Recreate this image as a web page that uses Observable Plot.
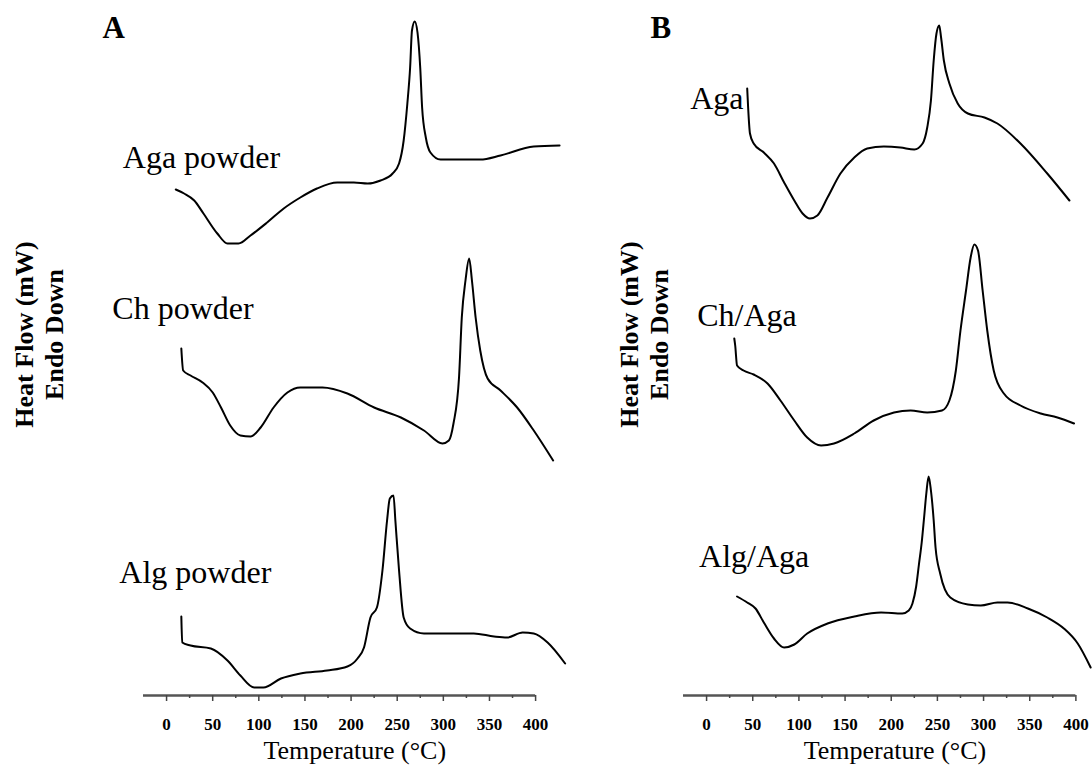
<!DOCTYPE html>
<html>
<head>
<meta charset="utf-8">
<script src="https://cdn.jsdelivr.net/npm/d3@7"></script>
<script src="https://cdn.jsdelivr.net/npm/@observablehq/plot@0.6"></script>
<style>
  body { margin: 0; background: #fff; }
  #fig { position: relative; width: 1092px; height: 765px; overflow: hidden; background: #fff; }
</style>
</head>
<body>
<div id="fig"></div>
<script>
// DSC thermograms: [temperature °C, heat flow (a.u., curves offset vertically)]
const tempTicks = [0, 50, 100, 150, 200, 250, 300, 350, 400];
const minorTicks = [25, 75, 125, 175, 225, 275, 325, 375];

// Panel A — raw powders
const agaPowder = [[10,511],[19,507],[30,500],[40,487],[55,467],[66,457],[78,457],[91,465],[109,478],[127,492],[145,503],[163,512],[185,518],[203,518],[218,517],[232,520],[245,527],[252,537],[257,560],[261,597],[264,633],[266,670],[269,679],[272,668],[275,632],[277,593],[281,563],[286,548],[297,541],[340,541],[362,545],[398,554],[426,555]];
const chPowder = [[16,352],[18,330],[26,325],[39,318],[50,308],[59,293],[69,275],[80,265],[91,264],[102,273],[116,293],[131,308],[145,313],[169,313],[196,307],[225,293],[254,283],[279,270],[299,257],[306,260],[311,277],[317,323],[320,383],[324,420],[328,442],[331,420],[335,383],[340,350],[348,322],[362,310],[380,293],[398,270],[419,240]];
const algPowder = [[16,84],[17,58],[26,55],[48,52],[66,40],[80,25],[95,13],[105,13],[124,22],[145,27],[174,30],[196,34],[207,42],[214,53],[221,83],[228,93],[234,130],[239,180],[242,202],[246,205],[248,180],[252,130],[257,83],[264,72],[279,67],[308,67],[333,67],[355,64],[369,63],[386,68],[398,67],[413,58],[432,37]];

// Panel B — agarose and blends
const aga = [[44,612],[45,593],[47,567],[51,557],[62,548],[73,537],[84,518],[95,500],[104,487],[112,482],[120,485],[131,503],[145,527],[160,543],[174,552],[192,554],[210,553],[225,551],[234,557],[239,573],[243,600],[246,640],[249,667],[252,675],[254,663],[257,640],[263,617],[272,597],[283,587],[301,583],[315,577],[340,557],[369,527],[393,500]];
const chAga = [[30,362],[31,355],[33,335],[40,330],[51,326],[66,317],[80,300],[95,280],[109,263],[124,255],[138,257],[160,267],[181,280],[203,288],[221,290],[239,288],[255,290],[263,300],[270,330],[275,370],[281,410],[286,443],[290,456],[294,450],[299,410],[304,370],[311,330],[322,307],[340,295],[362,287],[380,283],[398,277]];
const algAga = [[33,104],[44,98],[53,92],[62,78],[73,62],[84,53],[95,56],[109,67],[131,77],[160,84],[189,88],[212,87],[219,90],[223,97],[227,114],[230,136],[233,158],[235.5,182],[238,207],[240.5,224],[243,210],[246,180],[248,153],[253,127],[264,103],[283,96],[297,95],[315,98],[326,98],[348,92],[369,83],[387,72],[402,57],[416,33]];

const SERIF = "'Liberation Serif', 'Times New Roman', Times, serif";

// Layout of the two panels and where each curve's name sits relative to its first point
const panels = [
  {
    letter: "A", left: 0, width: 580, marginLeft: 143, marginRight: 8, domain: [-25, 440],
    letterDx: -41, yLabelDx: [-119, -89],
    series: [
      {name: "Aga powder", data: agaPowder, dx: -53, dy: -22},
      {name: "Ch powder", data: chPowder, dx: -69, dy: -30},
      {name: "Alg powder", data: algPowder, dx: -62, dy: -34}
    ]
  },
  {
    letter: "B", left: 580, width: 512, marginLeft: 103, marginRight: 0, domain: [-25, 418],
    letterDx: -33, yLabelDx: [-54, -24],
    series: [
      {name: "Aga", data: aga, dx: -57, dy: 20},
      {name: "Ch/Aga", data: chAga, dx: -37, dy: -13},
      {name: "Alg/Aga", data: algAga, dx: -38, dy: -30}
    ]
  }
];

const fig = document.getElementById("fig");

for (const p of panels) {
  const marks = [
    // axis baseline and ticks
    Plot.ruleY([5], {x1: -25, x2: 400, stroke: "#555", strokeWidth: 2.5}),
    Plot.axisX(minorTicks, {tickSize: 3, tickFormat: () => "", stroke: "#444", strokeWidth: 1.5, label: null}),
    Plot.axisX(tempTicks, {
      tickSize: 6, tickPadding: 16, stroke: "#444", strokeWidth: 1.5,
      fontSize: 17, fontWeight: "bold", fill: "black", label: null
    }),
    Plot.text(["Temperature (°C)"], {
      x: 204, frameAnchor: "bottom", lineAnchor: "bottom", dy: 63, fontSize: 26, fill: "black"
    }),
    // vertical axis title
    Plot.text(["Heat Flow (mW)"], {
      frameAnchor: "left", textAnchor: "middle", rotate: -90, dx: p.yLabelDx[0], dy: -13.5,
      fontSize: 26, fontWeight: "bold", fill: "black"
    }),
    Plot.text(["Endo Down"], {
      frameAnchor: "left", textAnchor: "middle", rotate: -90, dx: p.yLabelDx[1], dy: -13.5,
      fontSize: 26, fontWeight: "bold", fill: "black"
    }),
    // panel letter
    Plot.text([p.letter], {
      frameAnchor: "top-left", textAnchor: "start", lineAnchor: "bottom",
      dx: p.letterDx, dy: 37, fontSize: 31, fontWeight: "bold", fill: "black"
    })
  ];

  for (const s of p.series) {
    marks.push(
      Plot.line(s.data, {
        x: d => d[0], y: d => d[1], stroke: "black", strokeWidth: 2, curve: "monotone-x"
      }),
      Plot.text(s.data.slice(0, 1), {
        x: d => d[0], y: d => d[1], text: () => s.name,
        textAnchor: "start", lineAnchor: "bottom", dx: s.dx, dy: s.dy,
        fontSize: 32, fill: "black"
      })
    );
  }

  const svg = Plot.plot({
    width: p.width,
    height: 765,
    marginLeft: p.marginLeft,
    marginRight: p.marginRight,
    marginTop: 0,
    marginBottom: 70,
    x: {domain: p.domain, label: null},
    y: {domain: [5, 700], axis: null},
    style: {fontFamily: SERIF, background: "white", overflow: "visible", color: "black"},
    marks
  });
  svg.style.position = "absolute";
  svg.style.left = p.left + "px";
  svg.style.top = "0px";
  fig.append(svg);
}
</script>
</body>
</html>
